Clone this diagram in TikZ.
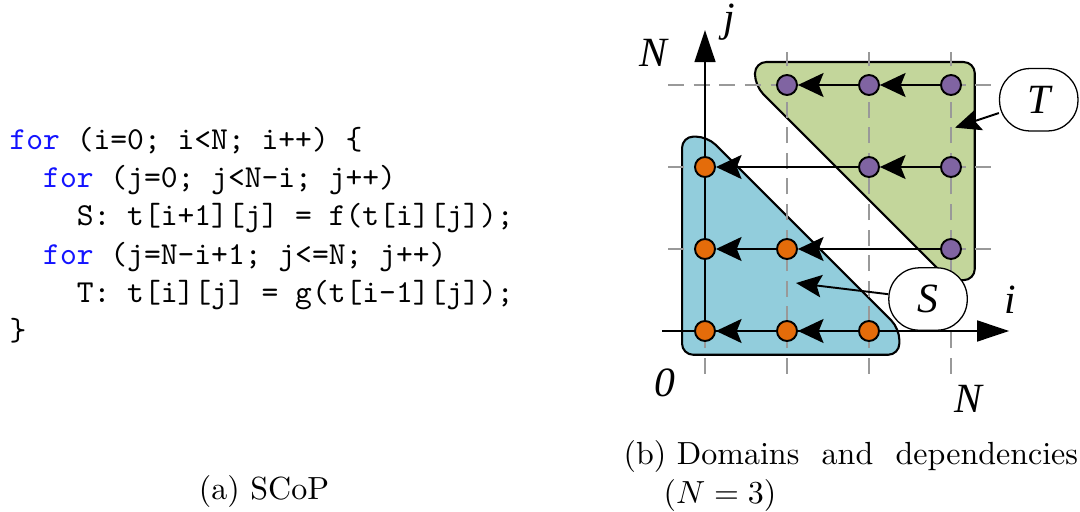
\documentclass[tikz,border=0pt]{standalone}
\usepackage{fontspec}
\newfontfamily\figfont{Liberation Serif}
\usetikzlibrary{arrows.meta}
\definecolor{sfill}{RGB}{146,205,220}
\definecolor{tfill}{RGB}{195,214,155}
\definecolor{sdot}{RGB}{228,108,10}
\definecolor{tdot}{RGB}{128,100,162}
\definecolor{kw}{RGB}{20,20,255}

\begin{document}
\begin{tikzpicture}[x=0.3125pt,y=-0.3125pt,
  code/.style={anchor=base west,inner sep=0pt,font=\ttfamily\frenchspacing},
  lbl/.style={inner sep=0pt,font={\figfont\fontsize{13pt}{15pt}\selectfont\itshape}},
  bubble/.style={lbl,draw,fill=white,rounded corners=9.5pt,minimum width=24.5pt,minimum height=19.5pt,line width=0.4pt},
  region/.style={draw,line width=0.65pt,rounded corners=3.5pt},
  gridline/.style={gray!80,line width=0.6pt,dash pattern=on 5pt off 3pt},
  axis/.style={line width=0.65pt,-{Triangle[length=10pt,width=6.5pt]}},
  dep/.style={line width=0.65pt,-{Stealth[length=8pt,width=7.5pt,inset=1.5pt]}},
  leader/.style={line width=0.6pt,-{Stealth[length=8pt,width=7pt,inset=1.5pt]}},
  spoint/.style={circle,draw,line width=0.6pt,fill=sdot,minimum size=6.25pt,inner sep=0pt},
  tpoint/.style={spoint,fill=tdot}]
  \useasboundingbox (0,0) rectangle (1080,512);

  % (a) the loop nest
  \node[code] (l1) at (9,150) {\textcolor{kw}{for} (i=0; i<N; i++) \{};
  \node[code] (l2) at (42.6,188) {\textcolor{kw}{for} (j=0; j<N-i; j++)};
  \node[code] (l3) at (76.2,226) {S: t[i+1][j] = f(t[i][j]);};
  \node[code] (l4) at (42.6,265) {\textcolor{kw}{for} (j=N-i+1; j<=N; j++)};
  \node[code] (l5) at (76.2,303) {T: t[i][j] = g(t[i-1][j]);};
  \node[code] (l6) at (9,341) {\}};
  \node[anchor=base,inner sep=0pt] (capa) at (264,500) {(a) SCoP};

  % (b) iteration domains
  \coordinate (O) at (705,331);
  \begin{scope}[shift={(O)},x=25.625pt,y=25.625pt]
    \draw[region,fill=sfill] (-0.28,-0.29) -- (2.37,-0.29) -- (2.37,0.03) -- (0.03,2.37) -- (-0.28,2.37) -- cycle;
    \draw[region,fill=tfill] (0.61,3.28) -- (3.29,3.28) -- (3.29,0.62) -- (2.98,0.62) -- (0.61,2.99) -- cycle;
    \foreach \k in {0,...,3}
      \draw[gridline] (\k,-0.52) -- (\k,3.4);
    \foreach \k in {1,2,3}
      \draw[gridline] (-0.45,\k) -- (3.5,\k);
    \coordinate (istart) at (-0.52,0);
    \coordinate (iend) at (3.71,0);
    \coordinate (jend) at (0,3.67);
    \draw[axis] (istart) -- (iend);
    \draw[axis] (O) -- (jend);
    \node[lbl] (ilbl) at (3.72,0.38) {i};
    \node[lbl] (jlbl) at (0.29,3.77) {j};
    \node[lbl] (zlbl) at (-0.49,-0.63) {0};
    \node[lbl] (nilbl) at (3.21,-0.83) {N};
    \node[lbl] (njlbl) at (-0.63,3.39) {N};

    \node[bubble] (tbub) at (4.07,2.82) {T};
    \node[bubble] (sbub) at (2.72,0.39) {S};
    \coordinate (ttip) at (3.05,2.48);
    \coordinate (stip) at (1.11,0.585);
    \draw[leader] (tbub) -- (ttip);
    \draw[leader] (sbub) -- (stip);

    \foreach \p/\q in {0/0,1/0,2/0,0/1,1/1,0/2}
      \node[spoint] (s\p\q) at (\p,\q) {};
    \foreach \p/\q in {1/3,2/3,3/3,2/2,3/2,3/1}
      \node[tpoint] (t\p\q) at (\p,\q) {};

    \draw[dep] (s20) -- (s10);
    \draw[dep] (s10) -- (s00);
    \draw[dep] (t31) -- (s11);
    \draw[dep] (s11) -- (s01);
    \draw[dep] (t32) -- (t22);
    \draw[dep] (t22) -- (s02);
    \draw[dep] (t33) -- (t23);
    \draw[dep] (t23) -- (t13);
  \end{scope}
  \node[anchor=base west,inner sep=0pt,text width=142pt,align=left] (capb) at (623,465)
    {\noindent(b) Domains\hfill and\hfill dependencies\\\hspace*{12.5pt}($N=3$)};
\end{tikzpicture}
\end{document}
